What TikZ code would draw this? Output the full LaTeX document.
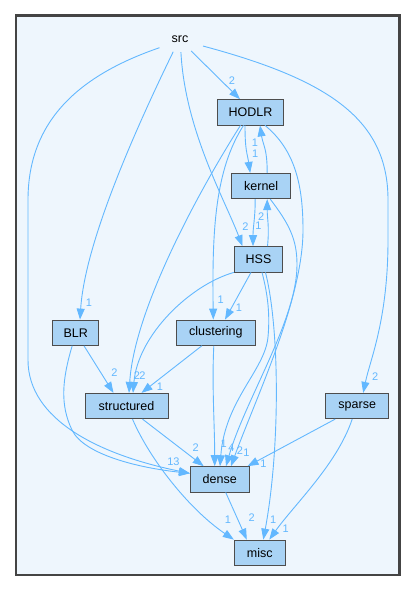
\documentclass[tikz,border=0pt]{standalone}
\usepackage{fontspec}
\setmainfont{Liberation Sans}
\usepackage{tikz}
\usetikzlibrary{arrows.meta, shapes.geometric}
\usepackage{xcolor}
\definecolor{edgeblue}{HTML}{63B8FF}
\definecolor{nodefill}{HTML}{A9D3F5}
\definecolor{nodeline}{HTML}{4D4D4D}
\definecolor{clusterbg}{HTML}{EEF6FD}
\definecolor{framegray}{HTML}{444444}
\tikzset{%
	dir node/.style={
		draw=nodeline,
		fill=nodefill,
		line width=0.9pt,
		minimum height=25.3pt,
		inner sep=0pt,
		font=\fontsize{12.5}{14}\selectfont
	},
	src node/.style={
		ellipse,
		minimum width=54pt,
		minimum height=26pt,
		inner sep=0pt,
		font=\fontsize{12.5}{14}\selectfont
	},
	dep/.style={
		draw=edgeblue,
		line width=0.9pt,
		-{Triangle[length=11pt,width=8pt]}
	},
	lbl/.style={
		text=edgeblue,
		inner sep=0pt,
		font=\fontsize{11}{12}\selectfont
	},
}
\begin{document}
\begin{tikzpicture}[x=1pt,y=-1pt]
			\useasboundingbox (0,0) rectangle (416,592);
			% Draw the frame
			\draw[framegray, line width=2.3pt, fill=clusterbg] (16,15.5) rectangle (399.5,575);
			
			% Draw the folders
			\node[src node] (src) at (180,39) {src};
			\node[dir node, minimum width=65.6pt] (HODLR) at (250.5,112.3) {HODLR};
			\node[dir node, minimum width=59pt] (kernel) at (261.2,186) {kernel};
			\node[dir node, minimum width=48.4pt] (HSS) at (258.5,259.3) {HSS};
			\node[dir node, minimum width=46pt] (BLR) at (75.7,332.7) {BLR};
			\node[dir node, minimum width=78.3pt] (clustering) at (215.8,332.7) {clustering};
			\node[dir node, minimum width=83pt] (structured) at (126.5,406) {structured};
			\node[dir node, minimum width=63pt] (sparse) at (357.2,406) {sparse};
			\node[dir node, minimum width=58.7pt] (dense) at (219.7,479.3) {dense};
			\node[dir node, minimum width=51pt] (misc) at (259.8,552.7) {misc};
			
			% Draw the dependencies of src
			\draw[dep] (src.313) -- ([xshift=-10.5pt]HODLR.north) node[lbl, pos=1, xshift=-8pt, yshift=19pt] {2};
			\draw[dep] (src.274) .. controls (185,130) and (225,200) .. ([xshift=-16pt]HSS.north) node[lbl, pos=1, xshift=3pt, yshift=20pt] {2};
			\draw[dep] (src.242) .. controls (140,120) and (85,240) .. ([xshift=4.3pt]BLR.north) node[lbl, pos=1, xshift=9pt, yshift=17pt] {1};
			\draw[dep] (src.203) .. controls (80,75) and (28,120) .. (28,200) -- (28,360) .. controls (28,420) and (100,455) .. ([yshift=6pt]dense.west) node[lbl, pos=1, xshift=-19.5pt, yshift=11.5pt] {1};
			\draw[dep] (src.343) .. controls (330,80) and (388,120) .. (388,200) -- (388,240) .. controls (388,320) and (370,360) .. ([xshift=6pt]sparse.north) node[lbl, pos=1, xshift=12pt, yshift=16pt] {2};
			
			% Draw the dependencies of HODLR
			\draw[dep] ([xshift=-5.5pt]HODLR.south) .. controls +(0,25) and +(-3,-20) .. ([xshift=-11pt]kernel.north) node[lbl, pos=1, xshift=5pt, yshift=19pt] {1};
			\draw[dep] ([xshift=-10pt]HODLR.south) .. controls (215,165) and (135,300) .. ([xshift=2.5pt]structured.north) node[lbl, pos=1, xshift=8pt, yshift=17pt] {2};
			\draw[dep] ([xshift=-7pt]HODLR.south) .. controls (215,170) and (212,230) .. ([xshift=-2.5pt]clustering.north) node[lbl, pos=1, xshift=7.5pt, yshift=20pt] {1};
			\draw[dep] ([xshift=14.5pt]HODLR.south) .. controls (295,150) and (303,185) .. (303,230) .. controls (303,300) and (255,400) .. ([xshift=11.3pt]dense.north) node[lbl, pos=1, xshift=15.5pt, yshift=13pt] {1};
			
			% Draw the dependencies of kernel
			\draw[dep] ([xshift=6pt]kernel.north) .. controls +(0,-25) and +(3,20) .. ([xshift=9.5pt]HODLR.south) node[lbl, pos=1, xshift=-5pt, yshift=-17.5pt] {1};
			\draw[dep] ([xshift=-6pt]kernel.south) .. controls +(0,20) and +(0,-20) .. ([xshift=-5.5pt]HSS.north) node[lbl, pos=1, xshift=5.5pt, yshift=20pt] {1};
			\draw[dep] ([xshift=9pt]kernel.south) .. controls (290,225) and (297,240) .. (297,265) .. controls (297,320) and (245,400) .. ([xshift=6.3pt]dense.north) node[lbl, pos=1, xshift=14pt, yshift=16pt] {2};
			
			% Draw the dependencies of HSS
			\draw[dep] ([xshift=9pt]HSS.north) .. controls +(2,-20) and +(0,20) .. ([xshift=6pt]kernel.south) node[lbl, pos=1, xshift=-6pt, yshift=-18pt] {2};
			\draw[dep] (HSS.south west) .. controls (190,285) and (138,335) .. ([xshift=6.5pt]structured.north) node[lbl, pos=1, xshift=9.5pt, yshift=17pt] {2};
			\draw[dep] ([xshift=-7.5pt]HSS.south) -- ([xshift=9.2pt]clustering.north) node[lbl, pos=1, xshift=14pt, yshift=12pt] {1};
			\draw[dep] ([xshift=3.5pt]HSS.south) .. controls (268,295) and (270,315) .. (268,337) .. controls (265,370) and (225,400) .. ([xshift=0.3pt]dense.north) node[lbl, pos=1, xshift=11.5pt, yshift=18.5pt] {4};
			\draw[dep] ([xshift=7pt]HSS.south) .. controls (280,330) and (280,450) .. ([xshift=3.5pt]misc.north) node[lbl, pos=1, xshift=10pt, yshift=20pt] {1};
			
			% Draw the dependencies of BLR
			\draw[dep] ([xshift=8.3pt]BLR.south) -- ([xshift=-13pt]structured.north) node[lbl, pos=1, xshift=1pt, yshift=20.5pt] {2};
			\draw[dep] ([xshift=-3.5pt]BLR.south) .. controls (62,380) and (60,405) .. (72,430) .. controls (84,455) and (140,468) .. ([yshift=6pt]dense.west) node[lbl, pos=1, xshift=-13.5pt, yshift=11.5pt] {3};
			
			% Draw the dependencies of clustering
			\draw[dep] ([xshift=-14pt]clustering.south) -- ([xshift=15pt]structured.north) node[lbl, pos=1, xshift=18.5pt, yshift=6pt] {1};
			\draw[dep] ([xshift=-2pt]clustering.south) .. controls +(-2,40) and +(0,-40) .. ([xshift=-5pt]dense.north) node[lbl, pos=1, xshift=9pt, yshift=22pt] {1};
			
			% Draw the dependencies of structured
			\draw[dep] ([xshift=16pt]structured.south) -- ([xshift=-16pt]dense.north) node[lbl, pos=1, xshift=-8pt, yshift=18.5pt] {2};
			\draw[dep] ([xshift=6pt]structured.south) .. controls (150,460) and (190,510) .. (misc.north west) node[lbl, pos=1, xshift=-6pt, yshift=20pt] {1};
			
			% Draw the dependencies of sparse
			\draw[dep] ([xshift=-22pt]sparse.south) -- ([xshift=-2pt]dense.north east) node[lbl, pos=1, xshift=16pt, yshift=2.5pt] {1};
			\draw[dep] ([xshift=-5pt]sparse.south) .. controls +(-15,45) and +(25,-35) .. ([xshift=9.5pt]misc.north) node[lbl, pos=1, xshift=16.5pt, yshift=10.5pt] {1};
			
			% Draw the dependency of dense
			\draw[dep] ([xshift=6pt]dense.south) -- ([xshift=-13pt]misc.north) node[lbl, pos=1, xshift=5pt, yshift=21.5pt] {2};
			
		\end{tikzpicture}
\end{document}
